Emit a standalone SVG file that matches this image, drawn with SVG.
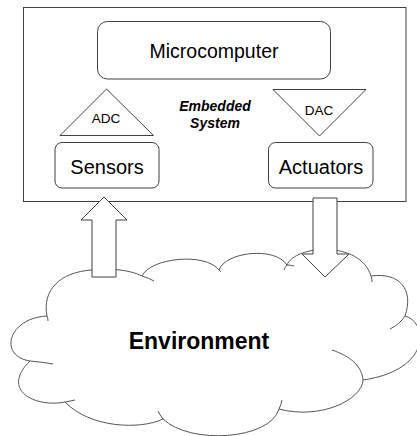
<svg xmlns="http://www.w3.org/2000/svg" width="417" height="436" viewBox="0 0 417 436">
<style>
.box{fill:#fff;stroke:#404040;stroke-width:1}
.cloud{fill:#fff;stroke:#555;stroke-width:1}
.tail{fill:none;stroke:#555;stroke-width:1}
.arrow{fill:#fff;stroke:#404040;stroke-width:1;stroke-linejoin:miter}
.t{font-family:"Liberation Sans",Arial,sans-serif;fill:#000;text-anchor:middle}
</style>
<rect width="417" height="436" fill="#fff"/>
<g id="embedded-system">
<rect class="box" x="23.5" y="7.5" width="382.5" height="194"/>
<text class="t" x="215" y="111" font-size="14" font-weight="bold" font-style="italic">Embedded</text>
<text class="t" x="215" y="127.5" font-size="14" font-weight="bold" font-style="italic">System</text>
</g>
<g id="microcomputer">
<rect class="box" x="97.5" y="21.5" width="233" height="57.5" rx="10" ry="10"/>
<text class="t" x="214" y="57.5" font-size="19.5">Microcomputer</text>
</g>
<g id="adc">
<polygon class="box" points="106.5,89 153.5,135.5 60,135.5"/>
<text class="t" x="106" y="123" font-size="13.5">ADC</text>
</g>
<g id="dac">
<polygon class="box" points="273,89.5 366,89.5 319.5,136"/>
<text class="t" x="319" y="114.5" font-size="13.5">DAC</text>
</g>
<g id="sensors">
<rect class="box" x="55" y="142.5" width="104" height="45.5" rx="7" ry="7"/>
<text class="t" x="107" y="174" font-size="20">Sensors</text>
</g>
<g id="actuators">
<rect class="box" x="268.5" y="142.5" width="104.5" height="45.5" rx="7" ry="7"/>
<text class="t" x="321" y="174" font-size="20">Actuators</text>
</g>
<g id="environment">
<path class="cloud" d="M47,316 C42,290 60,272 92,270 C112,268 130,270 142,276 C150,258 205,252 219,270 C225,252 275,246 287,265 C295,245 360,240 371,276 C400,272 414,290 405,316 C428,322 432,370 363,380 C362,400 320,420 279,409 C270,440 190,445 163,419 C140,430 90,428 65,402 C35,408 0,390 30,361 C-2,356 8,318 47,316 Z"/>
<path class="tail" d="M47,316 Q48,318 48,321"/>
<path class="tail" d="M142,276 Q149,278 154,281"/>
<path class="tail" d="M219,270 Q220,271 221,272"/>
<path class="tail" d="M284,270 Q285,267 287,265 Q291,265 294,266"/>
<path class="tail" d="M371,276 Q372,279 372,282"/>
<path class="tail" d="M405,316 Q400,324 390,329"/>
<path class="tail" d="M332,350 C350,356 362,366 363,380"/>
<path class="tail" d="M282,400 Q281,405 279,409"/>
<path class="tail" d="M158,411 Q160,415 163,419"/>
<path class="tail" d="M65,402 Q70,401 75,400"/>
<path class="tail" d="M30,361 Q42,362 53,364"/>
<text class="t" x="199" y="349" font-size="23" font-weight="bold">Environment</text>
</g>
<g id="connectors">
<polygon class="arrow" points="104,197 127,220 116,220 116,277 92,277 92,220 81,220"/>
<polygon class="arrow" points="313,198 337,198 337,254 349,254 325,277 302,254 313,254"/>
</g>
</svg>
